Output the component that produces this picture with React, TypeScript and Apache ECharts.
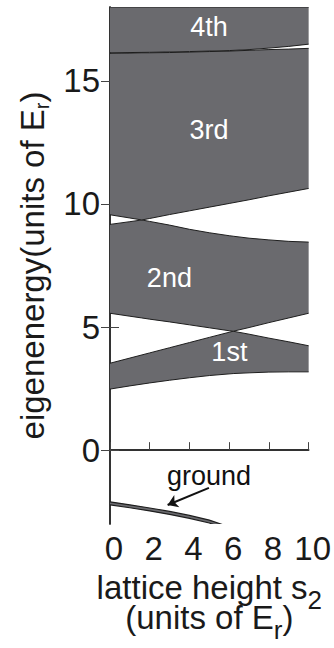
import React, { useEffect, useRef } from "react";
import * as echarts from "echarts";

// ---- data ----
const X_TICKS = [0, 2, 4, 6, 8, 10];
const Y_TICKS = [0, 5, 10, 15];

// 1st band
const X1 = [0, 1, 2, 3, 4, 5, 6.2, 7, 8, 9, 10];
const BAND1_LOW = [2.48, 2.61, 2.73, 2.84, 2.94, 3.03, 3.11, 3.14, 3.17, 3.18, 3.18];
const BAND1_HIGH = [3.53, 3.74, 3.95, 4.16, 4.37, 4.58, 4.83, 4.71, 4.55, 4.4, 4.24];

// 2nd band
const X2 = [0, 1, 1.6, 2, 3, 4, 5, 6, 6.2, 7, 8, 9, 10];
const BAND2_LOW = [5.56, 5.44, 5.37, 5.32, 5.21, 5.09, 4.97, 4.85, 4.83, 4.98, 5.18, 5.37, 5.56];
const BAND2_HIGH = [9.17, 9.28, 9.35, 9.29, 9.14, 8.97, 8.83, 8.71, 8.69, 8.61, 8.54, 8.48, 8.45];

// 3rd band
const X3 = [0, 1, 1.6, 2, 3, 4, 5, 6, 7, 8, 9, 10];
const BAND3_LOW = [9.56, 9.43, 9.35, 9.41, 9.57, 9.72, 9.87, 10.02, 10.17, 10.33, 10.48, 10.63];
const BAND3_HIGH = [16.12, 16.13, 16.14, 16.14, 16.15, 16.17, 16.19, 16.21, 16.24, 16.27, 16.29, 16.32];

// 4th band
const X4 = [0, 2, 4, 6, 7, 8, 9, 10];
const BAND4_LOW = [16.14, 16.16, 16.19, 16.23, 16.27, 16.33, 16.4, 16.49];
const BAND4_HIGH = [18, 18, 18, 18, 18, 18, 18, 18];

// ground band
const XG = [0, 1, 2, 3, 4, 5, 6];
const GROUND_LOW = [-2.22, -2.34, -2.47, -2.61, -2.77, -2.96, -3.24];
const GROUND_HIGH = [-2.1, -2.22, -2.35, -2.49, -2.65, -2.84, -3.12];

// labels
const LABEL_NAMES = ["4th", "3rd", "2nd", "1st", "ground"];
const LABEL_X = [4.98, 4.98, 2.99, 6.01, 4.98];
const LABEL_Y = [17.18, 13.0, 6.98, 3.99, -1.05];
const ARROW_FROM = [4.98, -1.53];
const ARROW_TO = [2.9, -2.23];

const FONT = '"Liberation Sans", Arial, Helvetica, sans-serif';
const FILL = "#6a6a6e";
const EDGE = "#1e1e1e";
const AXIS = "#262626";

function band(name: string, xs: number[], low: number[], high: number[], edgeWidth = 1) {
  return {
    type: "custom",
    name,
    coordinateSystem: "cartesian2d",
    clip: true,
    silent: true,
    z: 2,
    data: [[xs[0], low[0]]],
    renderItem: (_params: any, api: any) => {
      const top = xs.map((x, i) => api.coord([x, high[i]]));
      const bottom = xs.map((x, i) => api.coord([x, low[i]]));
      return {
        type: "group",
        children: [
          {
            type: "polygon",
            shape: { points: [...top, ...bottom.slice().reverse()] },
            style: { fill: FILL, stroke: null, lineWidth: 0 },
          },
          {
            type: "polyline",
            shape: { points: top },
            style: { stroke: EDGE, lineWidth: edgeWidth, fill: null },
          },
          {
            type: "polyline",
            shape: { points: bottom },
            style: { stroke: EDGE, lineWidth: edgeWidth, fill: null },
          },
        ],
      };
    },
  };
}

export default function App() {
  const ref = useRef<HTMLDivElement>(null);
  useEffect(() => {
    if (!ref.current) return;
    const chart = echarts.init(ref.current, undefined, { renderer: "svg" });
    const option: any = {
      animation: false,
      backgroundColor: "#ffffff",
      textStyle: { fontFamily: FONT },
      grid: { left: 110, top: 7, right: 23, bottom: 121, containLabel: false },
      xAxis: [
        {
          type: "value",
          min: 0,
          max: 10,
          interval: 2,
          position: "bottom",
          axisLine: { show: true, lineStyle: { color: AXIS, width: 1.5 } },
          axisTick: { show: true, inside: true, length: 8, lineStyle: { color: "#444", width: 1 } },
          axisLabel: {
            show: true,
            fontSize: 33,
            fontFamily: FONT,
            color: "#1a1a1a",
            margin: 8,
            padding: [0, 0, 0, 8],
            customValues: X_TICKS,
          },
          splitLine: { show: false },
          name: "lattice height s{sub|2}\n(units of E{sub|r})",
          nameLocation: "middle",
          nameGap: 48,
          nameTextStyle: {
            fontSize: 33,
            fontFamily: FONT,
            color: "#1a1a1a",
            lineHeight: 30,
            rich: {
              sub: { fontSize: 26, fontFamily: FONT, color: "#1a1a1a", verticalAlign: "bottom", height: 4 },
            },
          },
        },
        {
          type: "value",
          min: 0,
          max: 10,
          position: "top",
          axisLine: { show: true, lineStyle: { color: AXIS, width: 1.5 } },
          axisTick: { show: false },
          axisLabel: { show: false },
          splitLine: { show: false },
        },
      ],
      yAxis: [
        {
          type: "value",
          min: -3,
          max: 18,
          position: "left",
          axisLine: { show: true, lineStyle: { color: AXIS, width: 1.5 } },
          axisTick: { show: true, inside: true, length: 9, customValues: Y_TICKS, lineStyle: { color: "#444", width: 1 } },
          axisLabel: {
            show: true,
            fontSize: 33,
            fontFamily: FONT,
            color: "#1a1a1a",
            margin: 10,
            customValues: Y_TICKS,
          },
          splitLine: { show: false },
          name: "eigenenergy(units of E{sub|r})",
          nameLocation: "middle",
          nameGap: 61,
          nameRotate: 90,
          nameTextStyle: {
            fontSize: 33,
            fontFamily: FONT,
            color: "#1a1a1a",
            lineHeight: 34,
            rich: {
              sub: { fontSize: 20, fontFamily: FONT, color: "#1a1a1a", verticalAlign: "bottom", height: 15 },
            },
          },
        },
        {
          type: "value",
          min: -3,
          max: 18,
          position: "right",
          axisLine: { show: true, lineStyle: { color: AXIS, width: 1.5 } },
          axisTick: { show: true, inside: true, length: 9, customValues: Y_TICKS, lineStyle: { color: "#444", width: 1 } },
          axisLabel: { show: false },
          splitLine: { show: false },
        },
      ],
      series: [
        band("b1", X1, BAND1_LOW, BAND1_HIGH),
        band("b2", X2, BAND2_LOW, BAND2_HIGH),
        band("b3", X3, BAND3_LOW, BAND3_HIGH),
        band("b4", X4, BAND4_LOW, BAND4_HIGH),
        band("g", XG, GROUND_LOW, GROUND_HIGH, 1.2),
        {
          type: "scatter",
          name: "labels",
          symbolSize: 1,
          itemStyle: { color: "rgba(0,0,0,0)", opacity: 1 },
          z: 5,
          silent: true,
          data: LABEL_NAMES.map((n, i) => ({
            name: n,
            value: [LABEL_X[i], LABEL_Y[i]],
            label: {
              show: true,
              position: "inside",
              formatter: "{b}",
              fontSize: 27,
              fontFamily: FONT,
              opacity: 1,
              textBorderWidth: 0,
              color: n === "ground" ? "#111111" : "#ffffff",
            },
          })),
          markLine: {
            silent: true,
            animation: false,
            symbol: ["none", "arrow"],
            symbolSize: 10,
            label: { show: false },
            lineStyle: { color: "#111111", width: 2, type: "solid", opacity: 1 },
            data: [[{ coord: ARROW_FROM }, { coord: ARROW_TO }]],
          },
        },
      ],
    };
    chart.setOption(option);
    return () => chart.dispose();
  }, []);
  return (
    <div
      ref={ref}
      style={{ position: "absolute", left: 0, top: 0, width: 334, height: 648, background: "#fff" }}
    />
  );
}
